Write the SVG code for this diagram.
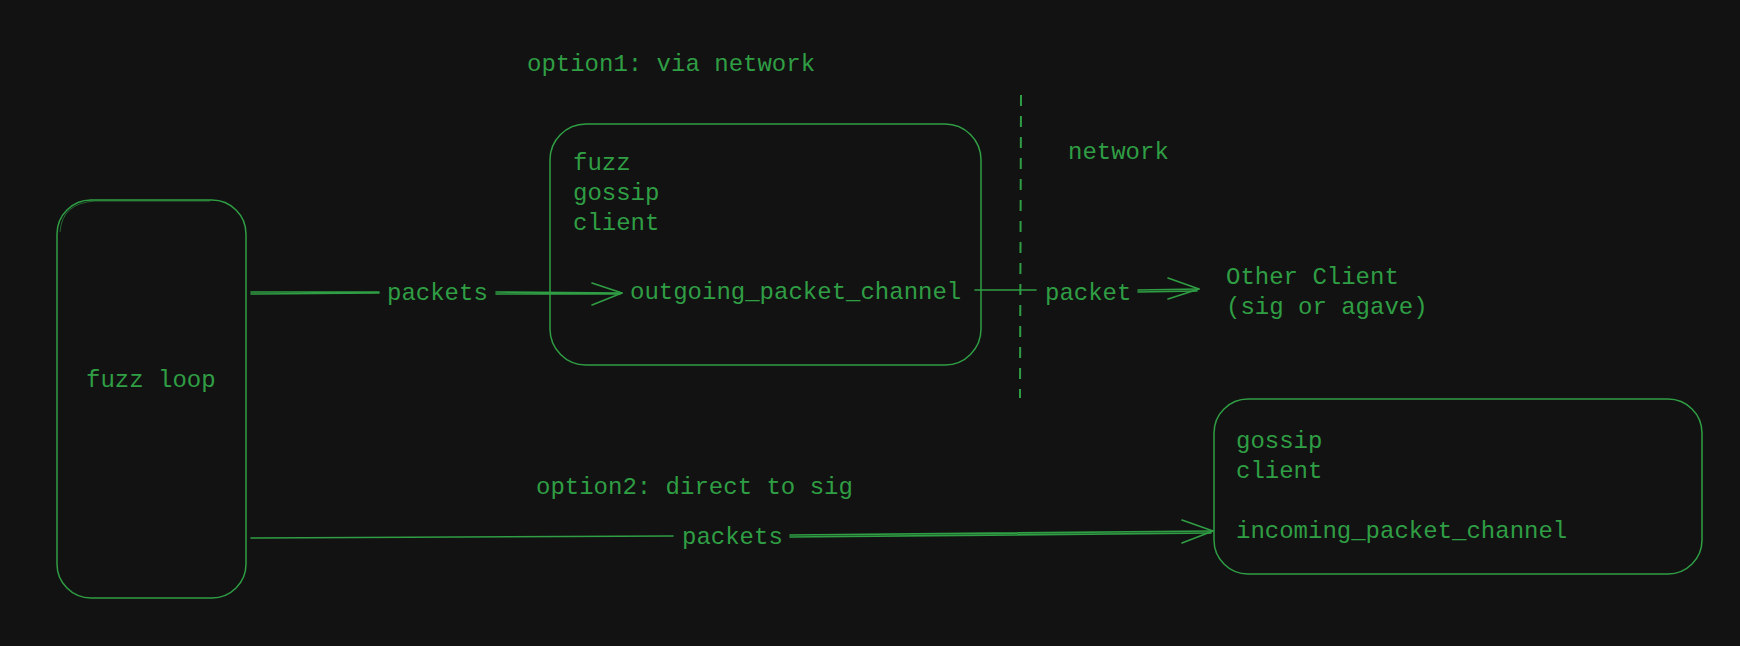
<svg xmlns="http://www.w3.org/2000/svg" width="1740" height="646" viewBox="0 0 1740 646">
<defs>
<style>
.bg{fill:#121212}
.box{fill:none;stroke:#2f9e44;stroke-width:1.5}
.sk{fill:none;stroke:#2f9e44;stroke-width:1;opacity:0.6}
.ln{fill:none;stroke:#2f9e44;stroke-width:1.6;stroke-linecap:round;stroke-linejoin:round}
.dash{fill:none;stroke:#2f9e44;stroke-width:2;stroke-dasharray:11 10}
.t{font-family:"Liberation Mono","DejaVu Sans Mono",monospace;font-size:24px;fill:#2f9e44}
</style>
</defs>
<rect class="bg" x="0" y="0" width="1740" height="646"/>

<g id="fuzz-loop">
<rect class="box" x="57" y="200" width="189" height="398" rx="34" ry="34"/>
<path class="sk" d="M60 232 Q62 203 95 201 L210 201"/>
<text class="t" x="86" y="387">fuzz loop</text>
</g>

<g id="option1-label">
<text class="t" x="527" y="71">option1: via network</text>
</g>

<g id="gossip-client-out">
<rect class="box" x="550" y="124" width="431" height="241" rx="36" ry="36"/>
<text class="t" x="573" y="170">fuzz</text>
<text class="t" x="573" y="200">gossip</text>
<text class="t" x="573" y="230">client</text>
<text class="t" x="630" y="299">outgoing_packet_channel</text>
</g>

<g id="network-boundary">
<line class="dash" x1="1021" y1="95" x2="1020" y2="398"/>
<text class="t" x="1068" y="159">network</text>
</g>

<g id="other-client">
<text class="t" x="1226" y="284">Other Client</text>
<text class="t" x="1226" y="314">(sig or agave)</text>
</g>

<g id="option2-label">
<text class="t" x="536" y="494">option2: direct to sig</text>
</g>

<g id="gossip-client-in">
<rect class="box" x="1214" y="399" width="488" height="175" rx="34" ry="34"/>
<text class="t" x="1236" y="448">gossip</text>
<text class="t" x="1236" y="478">client</text>
<text class="t" x="1236" y="538">incoming_packet_channel</text>
</g>

<g id="connectors">
<path class="ln" d="M251 292 L379 292 M251 294 L379 293"/>
<text class="t" x="387" y="300">packets</text>
<path class="ln" d="M496 292 L622 293 M496 294 L620 294"/>
<path class="ln" d="M592 283 L622 293 L592 305"/>

<path class="ln" d="M975 290 L1036 290"/>
<text class="t" x="1045" y="300">packet</text>
<path class="ln" d="M1138 290 L1199 289 M1138 292 L1197 291"/>
<path class="ln" d="M1168 278 L1199 289 L1168 299"/>

<path class="ln" d="M251 538 L673 536"/>
<text class="t" x="682" y="544">packets</text>
<path class="ln" d="M790 535 L1213 531 M790 537 L1211 533"/>
<path class="ln" d="M1182 520 L1213 531 L1182 543"/>
</g>
</svg>
